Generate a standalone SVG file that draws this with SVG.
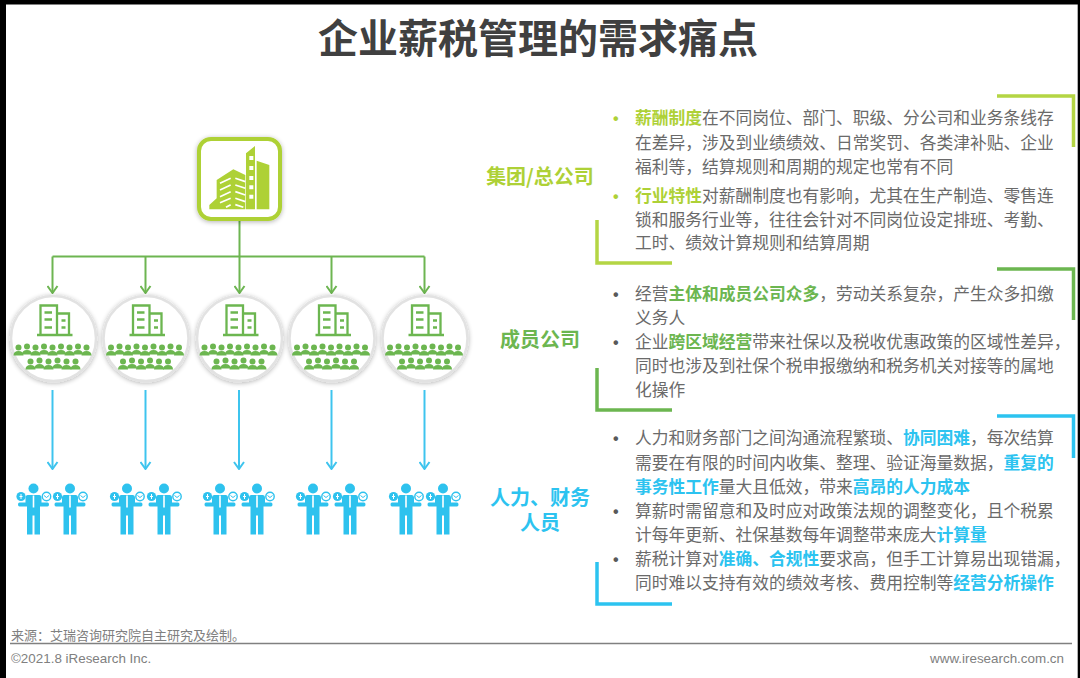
<svg xmlns="http://www.w3.org/2000/svg" width="1080" height="678" viewBox="0 0 1080 678">
<style>
text{font-family:"Liberation Sans","Noto Sans CJK SC",sans-serif}
.cjk{font-family:"Noto Sans CJK SC","Liberation Sans",sans-serif}
.title{font-size:40px;font-weight:700;fill:#404040;text-anchor:middle}
.lab{font-size:20px;font-weight:700;text-anchor:middle}
.body{font-size:16.75px;fill:#6a6a6a}
.body tspan{font-weight:700}
.a{fill:#aed136}.b{fill:#6cb650}.c{fill:#2cc3f0}
.bul{font-size:16px;font-weight:700}
.foot{font-size:13px;fill:#808080}
.foot2{font-size:13.4px;fill:#808080}
.brk{fill:none;stroke-width:3.5}
.conG{fill:none;stroke:#6db551;stroke-width:2}
.conB{fill:none;stroke:#3ec4ee;stroke-width:2}
</style>
<defs>
<filter id="sh" x="-20%" y="-20%" width="140%" height="140%"><feGaussianBlur in="SourceAlpha" stdDeviation="2.5"/><feOffset dy="1"/><feComponentTransfer><feFuncA type="linear" slope="0.3"/></feComponentTransfer><feMerge><feMergeNode/><feMergeNode in="SourceGraphic"/></feMerge></filter>
<marker id="mG" viewBox="0 0 12 10" markerWidth="12" markerHeight="10" refX="6" refY="9" markerUnits="userSpaceOnUse"><path d="M1,2 L6,9 L11,2" fill="none" stroke="#6db551" stroke-width="2"/></marker>
<marker id="mB" viewBox="0 0 12 10" markerWidth="12" markerHeight="10" refX="6" refY="9" markerUnits="userSpaceOnUse"><path d="M1,2 L6,9 L11,2" fill="none" stroke="#3ec4ee" stroke-width="2"/></marker>
<g id="p"><circle cx="0" cy="0" r="3"/><path d="M-5,8 Q-5,3.400 0,3.400 Q5,3.400 5,8Z"/></g>
<g id="member">
<circle r="42.500" fill="#fff" stroke="#e2e2e2" stroke-width="2.500" filter="url(#sh)"/>
<g fill="none" stroke="#6cb650" stroke-width="2.300">
<path d="M-13,-4 V-33 H3.500 V-4"/><path d="M3.500,-25 H15.500 V-4"/><path d="M-16.500,-3.500 H19"/>
<path d="M-9,-26 H-1.500 M-9,-19 H-1.500 M-9,-11 H-1.500 M8,-18 H12 M8,-11 H12"/>
</g>
<g fill="#6cb650">
<use href="#p" x="-35" y="9"/><use href="#p" x="-26.500" y="8"/><use href="#p" x="-18" y="9"/><use href="#p" x="-9.500" y="8"/><use href="#p" x="-1" y="9"/><use href="#p" x="7.500" y="8"/><use href="#p" x="16" y="9"/><use href="#p" x="24.500" y="8"/><use href="#p" x="33" y="9"/>
<use href="#p" x="-23" y="23"/><use href="#p" x="-14" y="22"/><use href="#p" x="-5" y="23"/><use href="#p" x="4" y="22"/><use href="#p" x="13" y="23"/><use href="#p" x="22" y="23"/>
</g>
</g>
<g id="staff">
<circle r="5" fill="#2ec2ee"/>
<path fill="#2ec2ee" d="M-6,6.500 H6 Q8,6.500 8,9 V14 H14 Q15.500,14 15.500,16 Q15.500,18 14,18 H6.500 V46 H1 V27 H-1 V46 H-6.500 V18 H-14 Q-15.500,18 -15.500,16 Q-15.500,14 -14,14 H-8 V9 Q-8,6.500 -6,6.500Z"/>
<path d="M0,7 V19" stroke="#fff" stroke-width="1.600"/>
<circle cx="-12.500" cy="8" r="4.600" fill="#2ec2ee"/><path d="M-12.500,5.500 V10.500 M-14,8 H-11" stroke="#fff" stroke-width="1"/>
<circle cx="13" cy="8" r="4.200" fill="#fff" stroke="#2ec2ee" stroke-width="1.400"/><path d="M10.500,7 L13,9 L15.500,7" fill="none" stroke="#2ec2ee" stroke-width="1"/>
</g>
</defs>
<rect width="1080" height="678" fill="#fff"/>
<path d="M0,0 H1080 V678 H1077.700 V4.500 H6 V678 H0Z" fill="#000"/>
<text class="title cjk" x="538" y="53">企业薪税管理的需求痛点</text>

<g id="connectors">
<path class="conG" d="M239.500,220 V256.500"/>
<path class="conG" d="M52.500,256.500 H424.500"/>
<path class="conG" d="M52.500,256.500 V293" marker-end="url(#mG)"/>
<path class="conG" d="M145.500,256.500 V293" marker-end="url(#mG)"/>
<path class="conG" d="M239.500,256.500 V293" marker-end="url(#mG)"/>
<path class="conG" d="M331.500,256.500 V293" marker-end="url(#mG)"/>
<path class="conG" d="M424.500,256.500 V293" marker-end="url(#mG)"/>
<path class="conB" d="M52.500,390 V469" marker-end="url(#mB)"/>
<path class="conB" d="M145.500,390 V469" marker-end="url(#mB)"/>
<path class="conB" d="M239,390 V469" marker-end="url(#mB)"/>
<path class="conB" d="M331.500,390 V469" marker-end="url(#mB)"/>
<path class="conB" d="M424.500,390 V469" marker-end="url(#mB)"/>
</g>

<g id="group-hq">
<rect x="199" y="139" width="81" height="80" rx="12" fill="#fff" stroke="#aed136" stroke-width="4" filter="url(#sh)"/>
<g transform="translate(190,130) scale(0.3333)">
<path fill="#aed136" d="M58,238 V225 L80,205 V150 L130,118 L166,135 V238Z"/>
<path fill="#aed136" d="M168,238 V70 L195,48 V238Z M200,238 V92 L238,105 V238Z"/>
<path stroke="#fff" stroke-width="5" fill="none" d="M90,160 L122,145 M90,180 L122,165 M90,200 L122,185 M90,218 L122,205 M136,145 L166,155 M136,165 L166,175 M136,185 L166,195 M136,205 L166,215 M108,232 L122,224 M136,224 L160,232"/>
<path fill="#fff" d="M178,78 h12 v12 h-12z M178,108 h12 v12 h-12z M178,138 h12 v12 h-12z M178,166 h12 v12 h-12z M178,194 h12 v12 h-12z"/>
</g>
</g>

<g id="member-1"><use href="#member" x="53.500" y="338.500"/></g>
<g id="member-2"><use href="#member" x="146" y="338.500"/></g>
<g id="member-3"><use href="#member" x="239.500" y="338.500"/></g>
<g id="member-4"><use href="#member" x="332" y="338.500"/></g>
<g id="member-5"><use href="#member" x="425" y="338.500"/></g>

<g id="staff-1"><use href="#staff" x="33.500" y="488.500"/><use href="#staff" x="70" y="488.500"/></g>
<g id="staff-2"><use href="#staff" x="127" y="488.500"/><use href="#staff" x="164" y="488.500"/></g>
<g id="staff-3"><use href="#staff" x="220" y="488.500"/><use href="#staff" x="257" y="488.500"/></g>
<g id="staff-4"><use href="#staff" x="313" y="488.500"/><use href="#staff" x="350" y="488.500"/></g>
<g id="staff-5"><use href="#staff" x="406" y="488.500"/><use href="#staff" x="443" y="488.500"/></g>

<g id="label-hq"><text class="lab cjk a" x="540" y="184">集团/总公司</text></g>
<g id="label-member"><text class="lab cjk b" x="540" y="347">成员公司</text></g>
<g id="label-staff"><text class="lab cjk c" y="505"><tspan x="540">人力、财务</tspan><tspan x="540" dy="25">人员</tspan></text></g>

<g id="panel-hq">
<path class="brk" stroke="#b4d544" d="M997,96 H1073.500 V147"/>
<path class="brk" stroke="#b4d544" d="M597,220 V263 H672"/>
<text class="bul a" x="613" y="124">•</text>
<text class="bul a" x="613" y="202">•</text>
<text class="body cjk" x="635" y="124"><tspan class="a">薪酬制度</tspan>在不同岗位、部门、职级、分公司和业务条线存</text>
<text class="body cjk" x="635" y="149">在差异，涉及到业绩绩效、日常奖罚、各类津补贴、企业</text>
<text class="body cjk" x="635" y="173">福利等，结算规则和周期的规定也常有不同</text>
<text class="body cjk" x="635" y="202"><tspan class="a">行业特性</tspan>对薪酬制度也有影响，尤其在生产制造、零售连</text>
<text class="body cjk" x="635" y="226">锁和服务行业等，往往会针对不同岗位设定排班、考勤、</text>
<text class="body cjk" x="635" y="249">工时、绩效计算规则和结算周期</text>
</g>

<g id="panel-member">
<path class="brk" stroke="#6cb650" d="M997,269 H1073.500 V320"/>
<path class="brk" stroke="#6cb650" d="M597,368 V410 H672"/>
<text class="bul" fill="#595959" x="613" y="300">•</text>
<text class="bul" fill="#595959" x="613" y="348">•</text>
<text class="body cjk" x="635" y="300">经营<tspan class="b">主体和成员公司众多</tspan>，劳动关系复杂，产生众多扣缴</text>
<text class="body cjk" x="635" y="324">义务人</text>
<text class="body cjk" x="635" y="348">企业<tspan class="b">跨区域经营</tspan>带来社保以及税收优惠政策的区域性差异，</text>
<text class="body cjk" x="635" y="372">同时也涉及到社保个税申报缴纳和税务机关对接等的属地</text>
<text class="body cjk" x="635" y="396">化操作</text>
</g>

<g id="panel-staff">
<path class="brk" stroke="#2cc3f0" d="M997,416 H1073.500 V458"/>
<path class="brk" stroke="#2cc3f0" d="M597,562 V604 H672"/>
<text class="bul" fill="#595959" x="613" y="444">•</text>
<text class="bul" fill="#595959" x="613" y="517">•</text>
<text class="bul" fill="#595959" x="613" y="565">•</text>
<text class="body cjk" x="635" y="444">人力和财务部门之间沟通流程繁琐、<tspan class="c">协同困难</tspan>，每次结算</text>
<text class="body cjk" x="635" y="469">需要在有限的时间内收集、整理、验证海量数据，<tspan class="c">重复的</tspan></text>
<text class="body cjk" x="635" y="493"><tspan class="c">事务性工作</tspan>量大且低效，带来<tspan class="c">高昂的人力成本</tspan></text>
<text class="body cjk" x="635" y="517">算薪时需留意和及时应对政策法规的调整变化，且个税累</text>
<text class="body cjk" x="635" y="541">计每年更新、社保基数每年调整带来庞大<tspan class="c">计算量</tspan></text>
<text class="body cjk" x="635" y="565">薪税计算对<tspan class="c">准确、合规性</tspan>要求高，但手工计算易出现错漏，</text>
<text class="body cjk" x="635" y="589">同时难以支持有效的绩效考核、费用控制等<tspan class="c">经营分析操作</tspan></text>
</g>

<g id="footer">
<text class="foot cjk" x="11" y="640">来源：艾瑞咨询研究院自主研究及绘制。</text>
<path d="M10,643.500 H1072" stroke="#808080" stroke-width="1.500"/>
<text class="foot2" x="11" y="663">©2021.8 iResearch Inc.</text>
<text class="foot2" x="1064" y="663" text-anchor="end">www.iresearch.com.cn</text>
</g>
</svg>
